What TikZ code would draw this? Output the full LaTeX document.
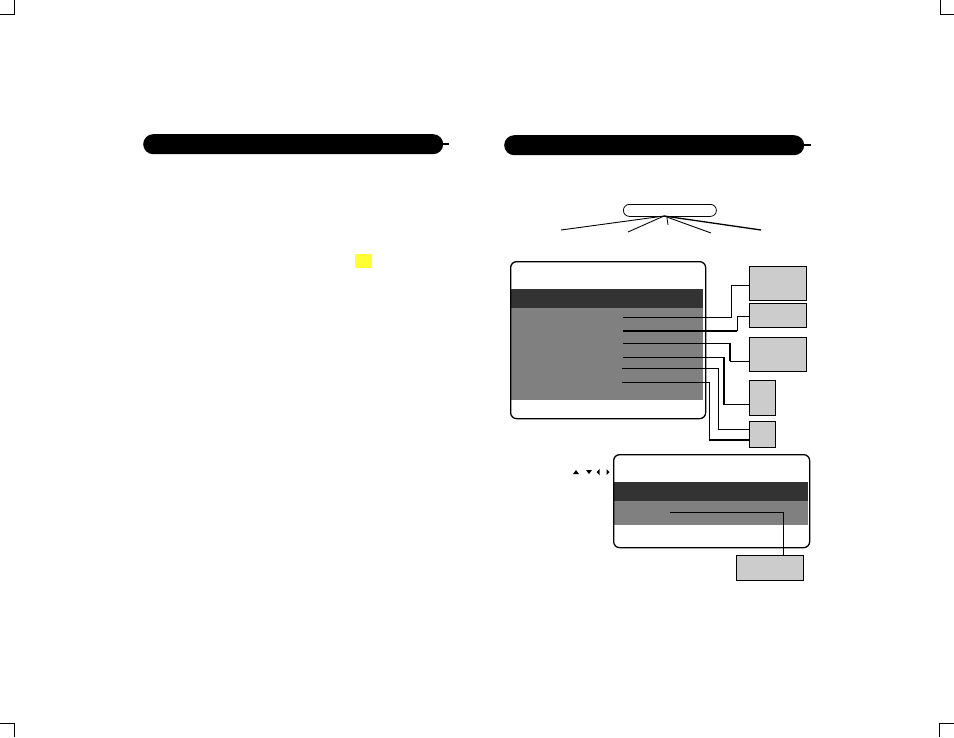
\documentclass[tikz,border=0pt]{standalone}
\usetikzlibrary{calc}
\definecolor{darkband}{HTML}{333333}
\definecolor{midband}{HTML}{808080}
\definecolor{boxgray}{HTML}{CCCCCC}
\definecolor{hilite}{HTML}{FFFF33}
\tikzset{
  hdr/.style={fill=black, draw=none, rounded corners=10pt},
  hdrtick/.style={line width=2pt},
  crop/.style={line width=1pt},
  menubox/.style={draw=black, line width=1.3pt, rounded corners=6pt},
  gbox/.style={draw=black, fill=boxgray, line width=1.3pt, inner sep=0pt, anchor=north west},
  conn/.style={line width=1pt},
  thick conn/.style={line width=2pt},
  tri/.style={fill=black, draw=none},
}
\begin{document}
\begin{tikzpicture}[x=1pt,y=-1pt]
\useasboundingbox (0,0) rectangle (954,737);
% crop marks
\draw[crop] (0,14) -- (14,14) -- (14,0);
\draw[crop] (940,0) -- (940,14) -- (954,14);
\draw[crop] (0,723) -- (14,723) -- (14,737);
\draw[crop] (954,723) -- (939,723) -- (939,737);
% headers
\node[hdr, minimum width=300pt, minimum height=20pt, inner sep=0pt, anchor=north west] (hL) at (143,134) {};
\draw[hdrtick] (hL.east) -- ++(6,0);
\node[hdr, minimum width=300pt, minimum height=20pt, inner sep=0pt, anchor=north west] (hR) at (504,135) {};
\draw[hdrtick] (hR.east) -- ++(7,0);
% yellow marker
\node[fill=hilite, minimum width=17pt, minimum height=14pt, inner sep=0pt, anchor=north west] (ym) at (355,254) {};
% remote bar
\node[draw=black, line width=0.8pt, rounded corners=6pt, minimum width=93pt, minimum height=12pt, inner sep=0pt, anchor=north west] (rem) at (623,204) {};
\coordinate (hub) at (664,216);
\coordinate (r1) at (561,230);
\coordinate (r2) at (628,232);
\coordinate (r3) at (711,233);
\coordinate (r4) at (761,230);
\coordinate (r5a) at (667,218);
\coordinate (r5) at (668,225);
\draw[line width=0.9pt] (hub) -- (r1);
\draw[line width=0.9pt] (hub) -- (r2);
\draw[line width=0.9pt] (hub) -- (r3);
\draw[line width=1.3pt] (hub) -- (r4);
\draw[line width=0.8pt] (r5a) -- (r5);
% main menu
\fill[darkband] (511,289) rectangle (703,308);
\fill[midband] (511,308) rectangle (703,400);
\node[menubox, minimum width=195pt, minimum height=157pt, inner sep=0pt, anchor=north west] (menu) at (510,261) {};
% side boxes
\node[gbox, minimum width=57pt, minimum height=34pt] (b1) at (749,266) {};
\node[gbox, minimum width=57pt, minimum height=24pt] (b2) at (749,303) {};
\node[gbox, minimum width=57pt, minimum height=34pt] (b3) at (749,337) {};
\node[gbox, minimum width=26pt, minimum height=35pt] (b4) at (749,380) {};
\node[gbox, minimum width=26pt, minimum height=26pt] (b5) at (749,421) {};
% menu item anchors
\coordinate (m1) at (623,317);
\coordinate (m2) at (623,331);
\coordinate (m3) at (623,343);
\coordinate (m4) at (623,357);
\coordinate (m5) at (622,368);
\coordinate (m6) at (622,382);
% box entry points
\coordinate (e1) at ($(b1.north west)!0.56!(b1.south west)$);
\coordinate (e2) at ($(b2.north west)!0.54!(b2.south west)$);
\coordinate (e3) at ($(b3.north west)!0.68!(b3.south west)$);
\coordinate (e4) at ($(b4.north west)!0.686!(b4.south west)$);
\coordinate (e5) at ($(b5.north west)!0.31!(b5.south west)$);
\coordinate (e6) at ($(b5.north west)!0.69!(b5.south west)$);
% connectors
\draw[conn] (m1) -| ($(e1)+(-18,0)$) -- (e1);
\draw[thick conn] (m2) -- ($(m2)+(114,0)$);
\draw[conn] ($(m2)+(114,0)$) |- (e2);
\draw[conn] (m3) -- ($(m3)+(107,0)$);
\draw[thick conn] ($(m3)+(107,0)$) -- ($(e3)+(-19,0)$);
\draw[conn] ($(e3)+(-19,0)$) -- (e3);
\draw[conn] (m4) -- ($(m4)+(101,0)$);
\draw[thick conn] ($(m4)+(101,0)$) -- ($(e4)+(-25,0)$);
\draw[conn] ($(e4)+(-25,0)$) -- (e4);
\draw[conn] (m5) -| ($(e5)+(-31,0)$) -- (e5);
\draw[conn] (m6) -| ($(e6)+(-40,0)$);
\draw[thick conn] ($(e6)+(-40,0)$) -- (e6);
% nav arrows
\fill[tri] (573,474) -- (579,474) -- (576,470) -- cycle;
\fill[tri] (586,470) -- (592,470) -- (589,474) -- cycle;
\fill[tri] (599.5,469) -- (599.5,475) -- (596.5,472) -- cycle;
\fill[tri] (606.5,469) -- (606.5,475) -- (609.5,472) -- cycle;
% second menu
\fill[darkband] (614,482) rectangle (808,501);
\fill[midband] (614,501) rectangle (808,525);
\node[menubox, minimum width=196pt, minimum height=93pt, inner sep=0pt, anchor=north west] (menu2) at (613,454) {};
\node[gbox, minimum width=67pt, minimum height=25pt] (b6) at (736,555) {};
\coordinate (m7) at (670,512);
\draw[conn] (m7) -| (b6.north -| 783,0);
\end{tikzpicture}
\end{document}
